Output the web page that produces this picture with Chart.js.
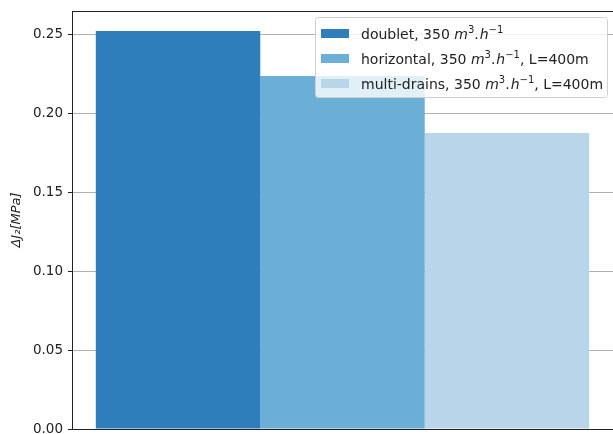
<!DOCTYPE html>
<html>
<head>
<meta charset="utf-8">
<script src="https://cdn.jsdelivr.net/npm/chart.js@4.4.1/dist/chart.umd.min.js"></script>
<style>
  html, body { margin: 0; padding: 0; background: #fff; }
  canvas { display: block; }
</style>
</head>
<body>
<canvas id="chart" width="613" height="434"></canvas>
<script>
// data
const categories = ['']
const seriesLabels = [
	'doublet, 350 m³.h⁻¹',
	'horizontal, 350 m³.h⁻¹, L=400m',
	'multi-drains, 350 m³.h⁻¹, L=400m'
]
const seriesValues = [0.252, 0.2235, 0.1873]
const seriesColors = ['#2e7ebc', '#6baed6', '#b8d5ea']
const yTicks = [0, 0.05, 0.1, 0.15, 0.2, 0.25]
const yLabel = 'ΔJ₂[MPa]'

const FONT = '"DejaVu Sans", sans-serif'

// draws a label, with the unit part in math style (italic + superscripts)
const drawRichLabel = (ctx, text, x, y) => {
	const parts = text.split(/(m³\.h⁻¹)/)
	let cx = x
	const put = (str, font, dy) => {
		ctx.font = font
		ctx.fillText(str, cx, y + dy)
		cx += ctx.measureText(str).width
	}
	parts.forEach(p => {
		if (p === 'm³.h⁻¹') {
			put('m', 'italic 14px ' + FONT, 0)
			put('3', '10px ' + FONT, -5.5)
			put('.', '14px ' + FONT, 0)
			cx += 1
			put('h', 'italic 14px ' + FONT, 0)
			put('−1', '10px ' + FONT, -5.5)
		} else if (p.length) {
			put(p, '14px ' + FONT, 0)
		}
	})
}

const framePlugin = {
	id: 'frame',
	afterDatasetsDraw(chart) {
		const { ctx, chartArea } = chart
		ctx.save()
		ctx.strokeStyle = '#222'
		ctx.lineWidth = 1
		ctx.beginPath()
		ctx.moveTo(chartArea.left, Math.round(chartArea.top) + 0.5)
		ctx.lineTo(chartArea.right + 5, Math.round(chartArea.top) + 0.5)
		ctx.stroke()
		ctx.restore()
	}
}

const legendPlugin = {
	id: 'mplLegend',
	afterDraw(chart) {
		const { ctx } = chart
		const bx = 315.5, by = 17.5, bw = 292, bh = 80, r = 3
		ctx.save()
		ctx.beginPath()
		ctx.roundRect(bx, by, bw, bh, r)
		ctx.fillStyle = 'rgba(255,255,255,0.8)'
		ctx.fill()
		ctx.strokeStyle = '#d0d0d0'
		ctx.lineWidth = 1
		ctx.stroke()
		chart.data.datasets.forEach((ds, i) => {
			const cy = 33.5 + i * 25
			ctx.fillStyle = ds.backgroundColor
			ctx.fillRect(321, cy - 4.5, 28, 9)
			ctx.fillStyle = '#222'
			ctx.textBaseline = 'alphabetic'
			drawRichLabel(ctx, ds.label, 361, cy + 5)
		})
		ctx.restore()
	}
}

const ctx = document.getElementById('chart').getContext('2d')
const chart = new Chart(ctx, {
	type: 'bar',
	data: {
		labels: categories,
		datasets: seriesLabels.map((label, i) => ({
			label: label,
			data: [seriesValues[i]],
			backgroundColor: seriesColors[i],
			borderWidth: 0
		}))
	},
	options: {
		responsive: false,
		animation: false,
		devicePixelRatio: 1,
		layout: { padding: { left: 0, top: 11, right: -2, bottom: 5 } },
		datasets: {
			bar: { categoryPercentage: 0.912, barPercentage: 1 }
		},
		plugins: {
			legend: { display: false },
			tooltip: { enabled: false }
		},
		scales: {
			x: {
				afterFit: scale => {
					scale.height = 0
					scale.paddingLeft = 0
					scale.paddingRight = 0
				},
				ticks: { display: false },
				grid: { display: false, drawTicks: false },
				border: { display: true, color: '#222', width: 1 }
			},
			y: {
				min: 0,
				max: 0.2646,
				afterFit: scale => {
					scale.width = 72
					scale.paddingTop = 0
					scale.paddingBottom = 0
				},
				afterBuildTicks: scale => {
					scale.ticks = yTicks.map(v => ({ value: v }))
				},
				ticks: {
					padding: 5,
					color: '#222',
					font: { family: FONT, size: 13.5 },
					callback: v => v.toFixed(2)
				},
				grid: {
					color: '#b0b0b0',
					lineWidth: 1,
					tickColor: '#222',
					tickLength: 4
				},
				border: { display: true, color: '#222', width: 1 },
				title: {
					display: true,
					text: yLabel,
					color: '#222',
					font: { family: FONT, size: 13, style: 'italic' },
					padding: { top: 9, bottom: 0 }
				}
			}
		}
	},
	plugins: [framePlugin, legendPlugin]
})
</script>
</body>
</html>
